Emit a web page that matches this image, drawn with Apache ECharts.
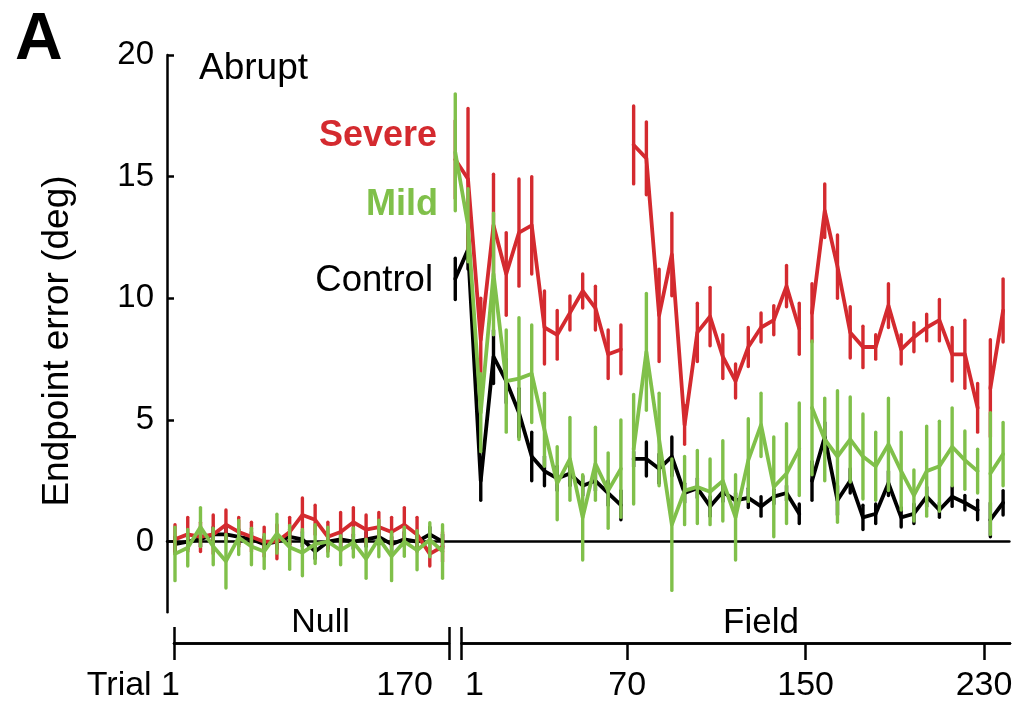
<!DOCTYPE html>
<html><head><meta charset="utf-8">
<script src="https://cdn.jsdelivr.net/npm/echarts@6/dist/echarts.min.js"></script>
<style>html,body{margin:0;padding:0;background:#fff}#c{width:1025px;height:705px}</style>
</head><body><div id="c"></div>
<script>
// ---------------- DATA (bins of trials, mean ± SEM) ----------------
const groupNames = ['Control', 'Severe', 'Mild'];
const nullBins = 22;                 // null-phase bins
const fieldSegments = [14, 14, 14, 2]; // field-phase bins per plotted segment
const yTicks = [0, 5, 10, 15, 20];
const nullTickLabels = ['Trial 1', '170'];
const fieldTickLabels = ['1', '70', '150', '230'];

const controlNull    = [-0.1, 0.0, 0.1, 0.3, 0.3, 0.2, 0.1, -0.1, 0.0, 0.2, 0.1, -0.4, 0.0, 0.1, 0.0, 0.1, 0.2, -0.1, 0.1, 0.0, 0.3, 0.0];
const controlNullErr = [0.3, 0.3, 0.3, 0.3, 0.3, 0.3, 0.3, 0.3, 0.3, 0.3, 0.3, 0.3, 0.3, 0.3, 0.3, 0.3, 0.3, 0.3, 0.3, 0.3, 0.3, 0.3];
const severeNull     = [0.1, 0.3, 0.2, 0.3, 0.7, 0.4, 0.2, 0.0, 0.0, 0.4, 1.1, 0.9, 0.2, 0.4, 0.8, 0.5, 0.6, 0.4, 0.7, 0.3, -0.5, -0.2];
const severeNullErr  = [0.6, 0.7, 0.6, 0.8, 0.6, 0.6, 0.6, 0.6, 0.7, 0.6, 0.7, 0.6, 0.6, 0.8, 0.6, 0.6, 0.6, 0.6, 0.7, 0.7, 0.5, 0.6];
const mildNull       = [-0.5, -0.25, 0.6, -0.2, -0.8, 0.17, -0.2, -0.4, 0.33, -0.23, -0.45, -0.1, 0.0, -0.35, -0.03, -0.7, 0.13, -0.6, 0.0, -0.35, 0.08, -0.4];
const mildNullErr    = [1.1, 0.75, 0.8, 0.75, 1.1, 0.7, 0.75, 0.7, 0.8, 0.9, 0.95, 0.8, 0.6, 0.6, 0.6, 0.8, 0.75, 1.0, 0.6, 0.8, 0.7, 1.1];

const controlField = [10.8, 12.0, 2.5, 7.6, 6.6, 5.3, 3.5, 2.9, 2.6, 2.8, 2.3, 2.5, 2.0, 1.5,
                      3.4, 3.4, 3.0, 3.5, 2.0, 2.2, 1.45, 2.05, 1.7, 1.8, 1.45, 1.85, 2.0, 1.15,
                      2.5, 4.3, 1.7, 2.5, 1.0, 1.15, 2.4, 1.0, 1.15, 1.85, 1.3, 1.85, 1.6, 1.3,
                      0.9, 1.6];
const controlFieldErr = [0.85, 0.8, 0.8, 1.1, 0.9, 1.0, 1.0, 0.6, 0.5, 0.5, 0.4, 0.4, 0.5, 0.6,
                         0.3, 0.7, 0.6, 0.8, 0.4, 0.4, 0.4, 0.4, 0.3, 0.4, 0.4, 0.3, 0.3, 0.4,
                         0.8, 0.6, 0.6, 0.5, 0.5, 0.4, 0.5, 0.4, 0.4, 0.4, 0.3, 0.4, 0.3, 0.4,
                         0.7, 0.5];
const severeField = [15.7, 14.9, 8.3, 13.0, 11.0, 12.7, 13.0, 8.8, 8.5, 9.4, 10.3, 9.6, 7.7, 7.9,
                     16.3, 15.75, 9.3, 11.8, 4.8, 8.6, 9.25, 7.6, 6.6, 8.0, 8.8, 9.1, 10.5, 8.75,
                     9.4, 13.6, 11.3, 8.6, 8.0, 8.0, 9.7, 7.9, 8.4, 8.8, 9.1, 7.7, 7.7, 5.5,
                     6.3, 9.5];
const severeFieldErr = [1.6, 2.9, 1.7, 2.1, 1.7, 2.2, 2.0, 1.5, 1.0, 0.7, 0.7, 0.9, 1.0, 1.0,
                        1.6, 1.5, 1.9, 1.7, 0.8, 1.2, 1.2, 0.9, 0.7, 0.8, 0.6, 0.6, 0.85, 1.05,
                        1.2, 1.1, 1.3, 1.05, 0.85, 0.5, 0.9, 0.6, 0.6, 0.55, 0.85, 1.1, 1.4, 1.0,
                        2.0, 1.3];
const mildField = [16.0, 13.0, 5.3, 11.0, 6.6, 6.7, 6.9, 4.6, 2.4, 3.4, 1.0, 3.2, 2.1, 3.0,
                   3.8, 7.8, 4.2, 0.7, 2.1, 2.25, 2.05, 2.5, 1.0, 3.35, 4.8, 2.25, 2.8, 3.8,
                   5.5, 4.2, 3.5, 4.2, 3.5, 3.1, 4.0, 2.9, 1.9, 2.9, 3.1, 3.9, 3.35, 2.9,
                   2.8, 3.6];
const mildFieldErr = [2.4, 1.5, 1.6, 2.5, 2.1, 2.5, 2.0, 1.5, 1.5, 1.7, 1.75, 1.5, 1.55, 2.0,
                      2.25, 2.4, 1.9, 2.7, 1.4, 1.5, 1.35, 1.65, 1.75, 1.7, 1.3, 2.05, 2.05, 1.9,
                      2.75, 1.7, 2.7, 1.75, 1.75, 1.4, 1.9, 1.6, 1.05, 1.85, 1.85, 1.6, 1.2, 0.9,
                      2.5, 1.3];

// ---------------- LAYOUT / STYLE ----------------
const FONT = '"Liberation Sans", Arial, Helvetica, sans-serif';
const RED = '#d42a2f', GREEN = '#80c04a', BLACK = '#000000';
const binWidth = 12.74, firstBinPx = 175;
const plotLeft = 167, plotRight = 1009.4;
const yPx0 = 541.7, yPxPerUnit = 24.34;
const yMin = -2.9, yMax = 20;
const gridTop = yPx0 - yMax * yPxPerUnit;
const gridBottomPx = yPx0 - yMin * yPxPerUnit;
const bracketPx = 643;
const binAt = px => (px - firstBinPx) / binWidth;
const pxAt = b => firstBinPx + b * binWidth;

const nullTicks = [binAt(174), nullBins - 0.5];
const fieldTicks = [nullBins + 0.5];
{ let b = nullBins; for (let s = 0; s < fieldSegments.length - 1; s++) { b += fieldSegments[s]; fieldTicks.push(b - 0.5); } }
const nullLabelPos = [binAt(180), binAt(433)];
const fieldLabelPos = [nullBins + 1.5].concat(fieldTicks.slice(1));
const nearestLabel = (pos, labels) => v => { let bi = 0, bd = 1e9; pos.forEach((p, i) => { const d = Math.abs(p - v); if (d < bd) { bd = d; bi = i; } }); return labels[bi]; };

function lineData(nv, fv) {
  const out = [];
  nv.forEach((v, i) => out.push([i, v]));
  out.push([nullBins - 0.5, '-']);
  let idx = nullBins, k = 0;
  fieldSegments.forEach((n, s) => {
    for (let j = 0; j < n; j++) { out.push([idx, fv[k]]); idx++; k++; }
    if (s < fieldSegments.length - 1) out.push([idx - 0.5, '-']);
  });
  return out;
}
function errData(nv, ne, fv, fe) {
  const m = nv.concat(fv), e = ne.concat(fe);
  return m.map((v, i) => [i, v - e[i], v + e[i]]);
}
function errSeries(name, data, color, z) {
  return {
    name: name, type: 'custom', xAxisIndex: 0, yAxisIndex: 0, z: z, data: data,
    encode: { x: 0, y: [1, 2] },
    renderItem: function (params, api) {
      const x = api.value(0);
      const p1 = api.coord([x, api.value(1)]);
      const p2 = api.coord([x, api.value(2)]);
      return { type: 'line', shape: { x1: p1[0], y1: p1[1], x2: p2[0], y2: p2[1] },
               style: { stroke: color, lineWidth: 3.4, lineCap: 'round' } };
    }
  };
}
function lineSeries(name, data, color, z) {
  return { name: name, type: 'line', xAxisIndex: 0, yAxisIndex: 0, z: z, data: data,
           showSymbol: false, symbol: 'none', connectNulls: false,
           lineStyle: { color: color, width: 3.8, join: 'round', cap: 'round' } };
}

const axisLineStyle = { color: BLACK, width: 2.5 };
const tickLineStyle = { color: BLACK, width: 2.5 };
const bracketAxis = (grid, min, max, ticks, inside, len, labelPos, labels, align) => ({
  gridIndex: grid, type: 'value', min: min, max: max, position: 'bottom',
  axisLine: { show: true, onZero: false, lineStyle: axisLineStyle },
  axisTick: { show: true, inside: inside, length: len, lineStyle: tickLineStyle, customValues: ticks },
  axisLabel: labels ? { show: true, customValues: labelPos, formatter: nearestLabel(labelPos, labels),
                        align: align, fontSize: 34, color: BLACK, margin: 26, fontFamily: FONT }
                    : { show: false },
  splitLine: { show: false }
});

const nullEndPx = pxAt(nullBins - 0.5);
const fieldStartPx = pxAt(nullBins + 0.5);
const bracketRight = 1010;

const txt = (text, x, y, font, fill, align, rotation) => ({
  type: 'text', silent: true, x: x, y: y, rotation: rotation || 0,
  style: { text: text, x: 0, y: 0, font: font, fill: fill, textAlign: align, align: align,
           textVerticalAlign: 'middle', verticalAlign: 'middle' }
});

const option = {
  animation: false,
  backgroundColor: '#ffffff',
  textStyle: { fontFamily: FONT },
  grid: [
    { left: plotLeft, top: gridTop, width: plotRight - plotLeft, height: gridBottomPx - gridTop },
    { left: 174, top: gridTop, width: nullEndPx - 174, height: bracketPx - gridTop },
    { left: fieldStartPx, top: gridTop, width: bracketRight - fieldStartPx, height: bracketPx - gridTop }
  ],
  xAxis: [
    { gridIndex: 0, type: 'value', min: binAt(plotLeft), max: binAt(plotRight),
      axisLine: { show: true, onZero: true, lineStyle: axisLineStyle },
      axisTick: { show: false }, axisLabel: { show: false }, splitLine: { show: false } },
    bracketAxis(1, binAt(174), nullBins - 0.5, nullTicks, false, 17, nullLabelPos, nullTickLabels, 'right'),
    bracketAxis(1, binAt(174), nullBins - 0.5, nullTicks, true, 16, null, null),
    bracketAxis(2, nullBins + 0.5, binAt(bracketRight), fieldTicks, false, 17, fieldLabelPos, fieldTickLabels, 'center'),
    bracketAxis(2, nullBins + 0.5, binAt(bracketRight), [fieldTicks[0]], true, 16, null, null)
  ],
  yAxis: [
    { gridIndex: 0, type: 'value', min: yMin, max: yMax,
      axisLine: { show: true, onZero: false, lineStyle: axisLineStyle },
      axisTick: { show: true, inside: true, length: 7, lineStyle: tickLineStyle, customValues: yTicks },
      axisLabel: { show: true, customValues: yTicks, fontSize: 33, color: BLACK, margin: 13, fontFamily: FONT },
      splitLine: { show: false } },
    { gridIndex: 1, type: 'value', show: false, min: 0, max: 1 },
    { gridIndex: 2, type: 'value', show: false, min: 0, max: 1 }
  ],
  series: [
    lineSeries(groupNames[0], lineData(controlNull, controlField), BLACK, 3),
    errSeries(groupNames[0], errData(controlNull, controlNullErr, controlField, controlFieldErr), BLACK, 3),
    lineSeries(groupNames[1], lineData(severeNull, severeField), RED, 4),
    errSeries(groupNames[1], errData(severeNull, severeNullErr, severeField, severeFieldErr), RED, 4),
    lineSeries(groupNames[2], lineData(mildNull, mildField), GREEN, 5),
    errSeries(groupNames[2], errData(mildNull, mildNullErr, mildField, mildFieldErr), GREEN, 5)
  ],
  graphic: [
    txt('A', 15, 41, 'bold 66px ' + FONT, BLACK, 'left'),
    txt('Abrupt', 199, 69, '37px ' + FONT, BLACK, 'left'),
    txt(groupNames[1], 437, 136.5, 'bold 36px ' + FONT, RED, 'right'),
    txt(groupNames[2], 438, 205.5, 'bold 36px ' + FONT, GREEN, 'right'),
    txt(groupNames[0], 433, 280.5, '36.5px ' + FONT, BLACK, 'right'),
    txt('Endpoint error (deg)', 58, 341, '37px ' + FONT, BLACK, 'center', Math.PI / 2),
    txt('Null', 320.5, 623, '34px ' + FONT, BLACK, 'center'),
    txt('Field', 761, 623, '35px ' + FONT, BLACK, 'center')
  ]
};
const chart = echarts.init(document.getElementById('c'), null, { renderer: 'canvas' });
chart.setOption(option);
</script></body></html>
